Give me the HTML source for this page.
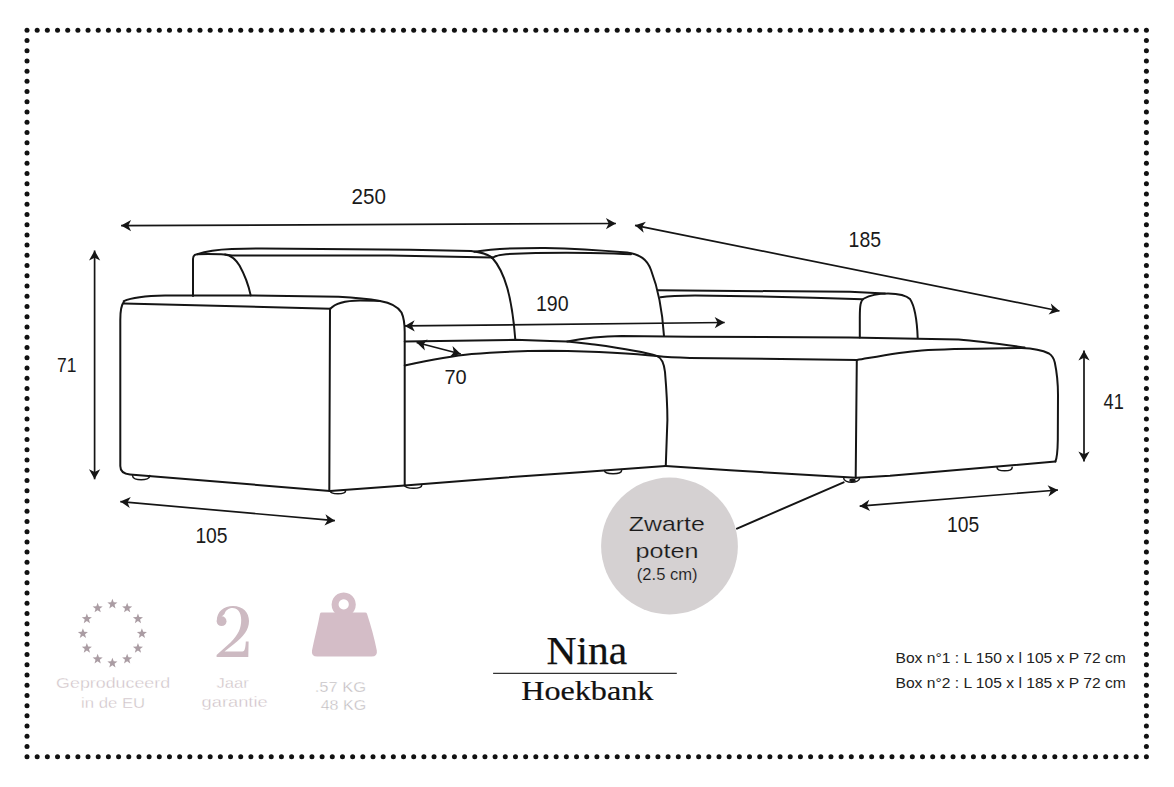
<!DOCTYPE html><html><head><meta charset="utf-8"><style>html,body{margin:0;padding:0;background:#fff;}svg{display:block;}</style></head><body>
<svg width="1174" height="787" viewBox="0 0 1174 787">
<rect width="1174" height="787" fill="#fff"/>
<g fill="#111"><circle cx="27.00" cy="30.20" r="2.5"/><circle cx="27.00" cy="756.80" r="2.5"/><circle cx="37.18" cy="30.20" r="2.5"/><circle cx="37.18" cy="756.80" r="2.5"/><circle cx="47.35" cy="30.20" r="2.5"/><circle cx="47.35" cy="756.80" r="2.5"/><circle cx="57.53" cy="30.20" r="2.5"/><circle cx="57.53" cy="756.80" r="2.5"/><circle cx="67.71" cy="30.20" r="2.5"/><circle cx="67.71" cy="756.80" r="2.5"/><circle cx="77.88" cy="30.20" r="2.5"/><circle cx="77.88" cy="756.80" r="2.5"/><circle cx="88.06" cy="30.20" r="2.5"/><circle cx="88.06" cy="756.80" r="2.5"/><circle cx="98.23" cy="30.20" r="2.5"/><circle cx="98.23" cy="756.80" r="2.5"/><circle cx="108.41" cy="30.20" r="2.5"/><circle cx="108.41" cy="756.80" r="2.5"/><circle cx="118.59" cy="30.20" r="2.5"/><circle cx="118.59" cy="756.80" r="2.5"/><circle cx="128.76" cy="30.20" r="2.5"/><circle cx="128.76" cy="756.80" r="2.5"/><circle cx="138.94" cy="30.20" r="2.5"/><circle cx="138.94" cy="756.80" r="2.5"/><circle cx="149.12" cy="30.20" r="2.5"/><circle cx="149.12" cy="756.80" r="2.5"/><circle cx="159.29" cy="30.20" r="2.5"/><circle cx="159.29" cy="756.80" r="2.5"/><circle cx="169.47" cy="30.20" r="2.5"/><circle cx="169.47" cy="756.80" r="2.5"/><circle cx="179.65" cy="30.20" r="2.5"/><circle cx="179.65" cy="756.80" r="2.5"/><circle cx="189.82" cy="30.20" r="2.5"/><circle cx="189.82" cy="756.80" r="2.5"/><circle cx="200.00" cy="30.20" r="2.5"/><circle cx="200.00" cy="756.80" r="2.5"/><circle cx="210.17" cy="30.20" r="2.5"/><circle cx="210.17" cy="756.80" r="2.5"/><circle cx="220.35" cy="30.20" r="2.5"/><circle cx="220.35" cy="756.80" r="2.5"/><circle cx="230.53" cy="30.20" r="2.5"/><circle cx="230.53" cy="756.80" r="2.5"/><circle cx="240.70" cy="30.20" r="2.5"/><circle cx="240.70" cy="756.80" r="2.5"/><circle cx="250.88" cy="30.20" r="2.5"/><circle cx="250.88" cy="756.80" r="2.5"/><circle cx="261.06" cy="30.20" r="2.5"/><circle cx="261.06" cy="756.80" r="2.5"/><circle cx="271.23" cy="30.20" r="2.5"/><circle cx="271.23" cy="756.80" r="2.5"/><circle cx="281.41" cy="30.20" r="2.5"/><circle cx="281.41" cy="756.80" r="2.5"/><circle cx="291.59" cy="30.20" r="2.5"/><circle cx="291.59" cy="756.80" r="2.5"/><circle cx="301.76" cy="30.20" r="2.5"/><circle cx="301.76" cy="756.80" r="2.5"/><circle cx="311.94" cy="30.20" r="2.5"/><circle cx="311.94" cy="756.80" r="2.5"/><circle cx="322.11" cy="30.20" r="2.5"/><circle cx="322.11" cy="756.80" r="2.5"/><circle cx="332.29" cy="30.20" r="2.5"/><circle cx="332.29" cy="756.80" r="2.5"/><circle cx="342.47" cy="30.20" r="2.5"/><circle cx="342.47" cy="756.80" r="2.5"/><circle cx="352.64" cy="30.20" r="2.5"/><circle cx="352.64" cy="756.80" r="2.5"/><circle cx="362.82" cy="30.20" r="2.5"/><circle cx="362.82" cy="756.80" r="2.5"/><circle cx="373.00" cy="30.20" r="2.5"/><circle cx="373.00" cy="756.80" r="2.5"/><circle cx="383.17" cy="30.20" r="2.5"/><circle cx="383.17" cy="756.80" r="2.5"/><circle cx="393.35" cy="30.20" r="2.5"/><circle cx="393.35" cy="756.80" r="2.5"/><circle cx="403.53" cy="30.20" r="2.5"/><circle cx="403.53" cy="756.80" r="2.5"/><circle cx="413.70" cy="30.20" r="2.5"/><circle cx="413.70" cy="756.80" r="2.5"/><circle cx="423.88" cy="30.20" r="2.5"/><circle cx="423.88" cy="756.80" r="2.5"/><circle cx="434.05" cy="30.20" r="2.5"/><circle cx="434.05" cy="756.80" r="2.5"/><circle cx="444.23" cy="30.20" r="2.5"/><circle cx="444.23" cy="756.80" r="2.5"/><circle cx="454.41" cy="30.20" r="2.5"/><circle cx="454.41" cy="756.80" r="2.5"/><circle cx="464.58" cy="30.20" r="2.5"/><circle cx="464.58" cy="756.80" r="2.5"/><circle cx="474.76" cy="30.20" r="2.5"/><circle cx="474.76" cy="756.80" r="2.5"/><circle cx="484.94" cy="30.20" r="2.5"/><circle cx="484.94" cy="756.80" r="2.5"/><circle cx="495.11" cy="30.20" r="2.5"/><circle cx="495.11" cy="756.80" r="2.5"/><circle cx="505.29" cy="30.20" r="2.5"/><circle cx="505.29" cy="756.80" r="2.5"/><circle cx="515.47" cy="30.20" r="2.5"/><circle cx="515.47" cy="756.80" r="2.5"/><circle cx="525.64" cy="30.20" r="2.5"/><circle cx="525.64" cy="756.80" r="2.5"/><circle cx="535.82" cy="30.20" r="2.5"/><circle cx="535.82" cy="756.80" r="2.5"/><circle cx="545.99" cy="30.20" r="2.5"/><circle cx="545.99" cy="756.80" r="2.5"/><circle cx="556.17" cy="30.20" r="2.5"/><circle cx="556.17" cy="756.80" r="2.5"/><circle cx="566.35" cy="30.20" r="2.5"/><circle cx="566.35" cy="756.80" r="2.5"/><circle cx="576.52" cy="30.20" r="2.5"/><circle cx="576.52" cy="756.80" r="2.5"/><circle cx="586.70" cy="30.20" r="2.5"/><circle cx="586.70" cy="756.80" r="2.5"/><circle cx="596.88" cy="30.20" r="2.5"/><circle cx="596.88" cy="756.80" r="2.5"/><circle cx="607.05" cy="30.20" r="2.5"/><circle cx="607.05" cy="756.80" r="2.5"/><circle cx="617.23" cy="30.20" r="2.5"/><circle cx="617.23" cy="756.80" r="2.5"/><circle cx="627.41" cy="30.20" r="2.5"/><circle cx="627.41" cy="756.80" r="2.5"/><circle cx="637.58" cy="30.20" r="2.5"/><circle cx="637.58" cy="756.80" r="2.5"/><circle cx="647.76" cy="30.20" r="2.5"/><circle cx="647.76" cy="756.80" r="2.5"/><circle cx="657.93" cy="30.20" r="2.5"/><circle cx="657.93" cy="756.80" r="2.5"/><circle cx="668.11" cy="30.20" r="2.5"/><circle cx="668.11" cy="756.80" r="2.5"/><circle cx="678.29" cy="30.20" r="2.5"/><circle cx="678.29" cy="756.80" r="2.5"/><circle cx="688.46" cy="30.20" r="2.5"/><circle cx="688.46" cy="756.80" r="2.5"/><circle cx="698.64" cy="30.20" r="2.5"/><circle cx="698.64" cy="756.80" r="2.5"/><circle cx="708.82" cy="30.20" r="2.5"/><circle cx="708.82" cy="756.80" r="2.5"/><circle cx="718.99" cy="30.20" r="2.5"/><circle cx="718.99" cy="756.80" r="2.5"/><circle cx="729.17" cy="30.20" r="2.5"/><circle cx="729.17" cy="756.80" r="2.5"/><circle cx="739.35" cy="30.20" r="2.5"/><circle cx="739.35" cy="756.80" r="2.5"/><circle cx="749.52" cy="30.20" r="2.5"/><circle cx="749.52" cy="756.80" r="2.5"/><circle cx="759.70" cy="30.20" r="2.5"/><circle cx="759.70" cy="756.80" r="2.5"/><circle cx="769.87" cy="30.20" r="2.5"/><circle cx="769.87" cy="756.80" r="2.5"/><circle cx="780.05" cy="30.20" r="2.5"/><circle cx="780.05" cy="756.80" r="2.5"/><circle cx="790.23" cy="30.20" r="2.5"/><circle cx="790.23" cy="756.80" r="2.5"/><circle cx="800.40" cy="30.20" r="2.5"/><circle cx="800.40" cy="756.80" r="2.5"/><circle cx="810.58" cy="30.20" r="2.5"/><circle cx="810.58" cy="756.80" r="2.5"/><circle cx="820.76" cy="30.20" r="2.5"/><circle cx="820.76" cy="756.80" r="2.5"/><circle cx="830.93" cy="30.20" r="2.5"/><circle cx="830.93" cy="756.80" r="2.5"/><circle cx="841.11" cy="30.20" r="2.5"/><circle cx="841.11" cy="756.80" r="2.5"/><circle cx="851.29" cy="30.20" r="2.5"/><circle cx="851.29" cy="756.80" r="2.5"/><circle cx="861.46" cy="30.20" r="2.5"/><circle cx="861.46" cy="756.80" r="2.5"/><circle cx="871.64" cy="30.20" r="2.5"/><circle cx="871.64" cy="756.80" r="2.5"/><circle cx="881.81" cy="30.20" r="2.5"/><circle cx="881.81" cy="756.80" r="2.5"/><circle cx="891.99" cy="30.20" r="2.5"/><circle cx="891.99" cy="756.80" r="2.5"/><circle cx="902.17" cy="30.20" r="2.5"/><circle cx="902.17" cy="756.80" r="2.5"/><circle cx="912.34" cy="30.20" r="2.5"/><circle cx="912.34" cy="756.80" r="2.5"/><circle cx="922.52" cy="30.20" r="2.5"/><circle cx="922.52" cy="756.80" r="2.5"/><circle cx="932.70" cy="30.20" r="2.5"/><circle cx="932.70" cy="756.80" r="2.5"/><circle cx="942.87" cy="30.20" r="2.5"/><circle cx="942.87" cy="756.80" r="2.5"/><circle cx="953.05" cy="30.20" r="2.5"/><circle cx="953.05" cy="756.80" r="2.5"/><circle cx="963.23" cy="30.20" r="2.5"/><circle cx="963.23" cy="756.80" r="2.5"/><circle cx="973.40" cy="30.20" r="2.5"/><circle cx="973.40" cy="756.80" r="2.5"/><circle cx="983.58" cy="30.20" r="2.5"/><circle cx="983.58" cy="756.80" r="2.5"/><circle cx="993.75" cy="30.20" r="2.5"/><circle cx="993.75" cy="756.80" r="2.5"/><circle cx="1003.93" cy="30.20" r="2.5"/><circle cx="1003.93" cy="756.80" r="2.5"/><circle cx="1014.11" cy="30.20" r="2.5"/><circle cx="1014.11" cy="756.80" r="2.5"/><circle cx="1024.28" cy="30.20" r="2.5"/><circle cx="1024.28" cy="756.80" r="2.5"/><circle cx="1034.46" cy="30.20" r="2.5"/><circle cx="1034.46" cy="756.80" r="2.5"/><circle cx="1044.64" cy="30.20" r="2.5"/><circle cx="1044.64" cy="756.80" r="2.5"/><circle cx="1054.81" cy="30.20" r="2.5"/><circle cx="1054.81" cy="756.80" r="2.5"/><circle cx="1064.99" cy="30.20" r="2.5"/><circle cx="1064.99" cy="756.80" r="2.5"/><circle cx="1075.17" cy="30.20" r="2.5"/><circle cx="1075.17" cy="756.80" r="2.5"/><circle cx="1085.34" cy="30.20" r="2.5"/><circle cx="1085.34" cy="756.80" r="2.5"/><circle cx="1095.52" cy="30.20" r="2.5"/><circle cx="1095.52" cy="756.80" r="2.5"/><circle cx="1105.69" cy="30.20" r="2.5"/><circle cx="1105.69" cy="756.80" r="2.5"/><circle cx="1115.87" cy="30.20" r="2.5"/><circle cx="1115.87" cy="756.80" r="2.5"/><circle cx="1126.05" cy="30.20" r="2.5"/><circle cx="1126.05" cy="756.80" r="2.5"/><circle cx="1136.22" cy="30.20" r="2.5"/><circle cx="1136.22" cy="756.80" r="2.5"/><circle cx="1146.40" cy="30.20" r="2.5"/><circle cx="1146.40" cy="756.80" r="2.5"/><circle cx="27.00" cy="40.43" r="2.5"/><circle cx="1146.40" cy="40.43" r="2.5"/><circle cx="27.00" cy="50.67" r="2.5"/><circle cx="1146.40" cy="50.67" r="2.5"/><circle cx="27.00" cy="60.90" r="2.5"/><circle cx="1146.40" cy="60.90" r="2.5"/><circle cx="27.00" cy="71.14" r="2.5"/><circle cx="1146.40" cy="71.14" r="2.5"/><circle cx="27.00" cy="81.37" r="2.5"/><circle cx="1146.40" cy="81.37" r="2.5"/><circle cx="27.00" cy="91.60" r="2.5"/><circle cx="1146.40" cy="91.60" r="2.5"/><circle cx="27.00" cy="101.84" r="2.5"/><circle cx="1146.40" cy="101.84" r="2.5"/><circle cx="27.00" cy="112.07" r="2.5"/><circle cx="1146.40" cy="112.07" r="2.5"/><circle cx="27.00" cy="122.30" r="2.5"/><circle cx="1146.40" cy="122.30" r="2.5"/><circle cx="27.00" cy="132.54" r="2.5"/><circle cx="1146.40" cy="132.54" r="2.5"/><circle cx="27.00" cy="142.77" r="2.5"/><circle cx="1146.40" cy="142.77" r="2.5"/><circle cx="27.00" cy="153.01" r="2.5"/><circle cx="1146.40" cy="153.01" r="2.5"/><circle cx="27.00" cy="163.24" r="2.5"/><circle cx="1146.40" cy="163.24" r="2.5"/><circle cx="27.00" cy="173.47" r="2.5"/><circle cx="1146.40" cy="173.47" r="2.5"/><circle cx="27.00" cy="183.71" r="2.5"/><circle cx="1146.40" cy="183.71" r="2.5"/><circle cx="27.00" cy="193.94" r="2.5"/><circle cx="1146.40" cy="193.94" r="2.5"/><circle cx="27.00" cy="204.17" r="2.5"/><circle cx="1146.40" cy="204.17" r="2.5"/><circle cx="27.00" cy="214.41" r="2.5"/><circle cx="1146.40" cy="214.41" r="2.5"/><circle cx="27.00" cy="224.64" r="2.5"/><circle cx="1146.40" cy="224.64" r="2.5"/><circle cx="27.00" cy="234.88" r="2.5"/><circle cx="1146.40" cy="234.88" r="2.5"/><circle cx="27.00" cy="245.11" r="2.5"/><circle cx="1146.40" cy="245.11" r="2.5"/><circle cx="27.00" cy="255.34" r="2.5"/><circle cx="1146.40" cy="255.34" r="2.5"/><circle cx="27.00" cy="265.58" r="2.5"/><circle cx="1146.40" cy="265.58" r="2.5"/><circle cx="27.00" cy="275.81" r="2.5"/><circle cx="1146.40" cy="275.81" r="2.5"/><circle cx="27.00" cy="286.05" r="2.5"/><circle cx="1146.40" cy="286.05" r="2.5"/><circle cx="27.00" cy="296.28" r="2.5"/><circle cx="1146.40" cy="296.28" r="2.5"/><circle cx="27.00" cy="306.51" r="2.5"/><circle cx="1146.40" cy="306.51" r="2.5"/><circle cx="27.00" cy="316.75" r="2.5"/><circle cx="1146.40" cy="316.75" r="2.5"/><circle cx="27.00" cy="326.98" r="2.5"/><circle cx="1146.40" cy="326.98" r="2.5"/><circle cx="27.00" cy="337.21" r="2.5"/><circle cx="1146.40" cy="337.21" r="2.5"/><circle cx="27.00" cy="347.45" r="2.5"/><circle cx="1146.40" cy="347.45" r="2.5"/><circle cx="27.00" cy="357.68" r="2.5"/><circle cx="1146.40" cy="357.68" r="2.5"/><circle cx="27.00" cy="367.92" r="2.5"/><circle cx="1146.40" cy="367.92" r="2.5"/><circle cx="27.00" cy="378.15" r="2.5"/><circle cx="1146.40" cy="378.15" r="2.5"/><circle cx="27.00" cy="388.38" r="2.5"/><circle cx="1146.40" cy="388.38" r="2.5"/><circle cx="27.00" cy="398.62" r="2.5"/><circle cx="1146.40" cy="398.62" r="2.5"/><circle cx="27.00" cy="408.85" r="2.5"/><circle cx="1146.40" cy="408.85" r="2.5"/><circle cx="27.00" cy="419.08" r="2.5"/><circle cx="1146.40" cy="419.08" r="2.5"/><circle cx="27.00" cy="429.32" r="2.5"/><circle cx="1146.40" cy="429.32" r="2.5"/><circle cx="27.00" cy="439.55" r="2.5"/><circle cx="1146.40" cy="439.55" r="2.5"/><circle cx="27.00" cy="449.79" r="2.5"/><circle cx="1146.40" cy="449.79" r="2.5"/><circle cx="27.00" cy="460.02" r="2.5"/><circle cx="1146.40" cy="460.02" r="2.5"/><circle cx="27.00" cy="470.25" r="2.5"/><circle cx="1146.40" cy="470.25" r="2.5"/><circle cx="27.00" cy="480.49" r="2.5"/><circle cx="1146.40" cy="480.49" r="2.5"/><circle cx="27.00" cy="490.72" r="2.5"/><circle cx="1146.40" cy="490.72" r="2.5"/><circle cx="27.00" cy="500.95" r="2.5"/><circle cx="1146.40" cy="500.95" r="2.5"/><circle cx="27.00" cy="511.19" r="2.5"/><circle cx="1146.40" cy="511.19" r="2.5"/><circle cx="27.00" cy="521.42" r="2.5"/><circle cx="1146.40" cy="521.42" r="2.5"/><circle cx="27.00" cy="531.66" r="2.5"/><circle cx="1146.40" cy="531.66" r="2.5"/><circle cx="27.00" cy="541.89" r="2.5"/><circle cx="1146.40" cy="541.89" r="2.5"/><circle cx="27.00" cy="552.12" r="2.5"/><circle cx="1146.40" cy="552.12" r="2.5"/><circle cx="27.00" cy="562.36" r="2.5"/><circle cx="1146.40" cy="562.36" r="2.5"/><circle cx="27.00" cy="572.59" r="2.5"/><circle cx="1146.40" cy="572.59" r="2.5"/><circle cx="27.00" cy="582.83" r="2.5"/><circle cx="1146.40" cy="582.83" r="2.5"/><circle cx="27.00" cy="593.06" r="2.5"/><circle cx="1146.40" cy="593.06" r="2.5"/><circle cx="27.00" cy="603.29" r="2.5"/><circle cx="1146.40" cy="603.29" r="2.5"/><circle cx="27.00" cy="613.53" r="2.5"/><circle cx="1146.40" cy="613.53" r="2.5"/><circle cx="27.00" cy="623.76" r="2.5"/><circle cx="1146.40" cy="623.76" r="2.5"/><circle cx="27.00" cy="633.99" r="2.5"/><circle cx="1146.40" cy="633.99" r="2.5"/><circle cx="27.00" cy="644.23" r="2.5"/><circle cx="1146.40" cy="644.23" r="2.5"/><circle cx="27.00" cy="654.46" r="2.5"/><circle cx="1146.40" cy="654.46" r="2.5"/><circle cx="27.00" cy="664.70" r="2.5"/><circle cx="1146.40" cy="664.70" r="2.5"/><circle cx="27.00" cy="674.93" r="2.5"/><circle cx="1146.40" cy="674.93" r="2.5"/><circle cx="27.00" cy="685.16" r="2.5"/><circle cx="1146.40" cy="685.16" r="2.5"/><circle cx="27.00" cy="695.40" r="2.5"/><circle cx="1146.40" cy="695.40" r="2.5"/><circle cx="27.00" cy="705.63" r="2.5"/><circle cx="1146.40" cy="705.63" r="2.5"/><circle cx="27.00" cy="715.86" r="2.5"/><circle cx="1146.40" cy="715.86" r="2.5"/><circle cx="27.00" cy="726.10" r="2.5"/><circle cx="1146.40" cy="726.10" r="2.5"/><circle cx="27.00" cy="736.33" r="2.5"/><circle cx="1146.40" cy="736.33" r="2.5"/><circle cx="27.00" cy="746.57" r="2.5"/><circle cx="1146.40" cy="746.57" r="2.5"/></g>
<g fill="none" stroke="#151515" stroke-width="2" stroke-linecap="round" stroke-linejoin="round">
<path d="M193,296 L193,259 C193,256 194.8,254.4 197.3,254.2 C207,250.8 218,249.5 232,249.0 L262,248.4 L410,249.8 L471,251.1 C482,252.5 488,254.5 492,257.5"/>
<path d="M197.3,254.2 C210,253.8 222,254 232,255.4 L390,255.6 L492,257.5"/>
<path d="M225,254.4 C231.5,255.3 235.5,259 239.5,265.5 C244.5,274.5 248.5,285 250.7,295.4"/>
<path d="M492,257.5 C505,272 512,297 515.3,339.5"/>
<path d="M474.5,251.8 C492,249 520,247.8 545,247.9 C580,248.6 610,251 627,252.5 C640,254.5 647,259 651,270 C656,283 662,305 664,336"/>
<path d="M492,258 C496,255.5 500,254.5 506,254.2 C530,253 560,252.6 590,253 C610,253.4 622,253.8 631,254.3"/>
<path d="M658,290.3 L850,291.8 L885,293.4"/>
<path d="M660.5,297.3 C668,296 678,295.4 695,295.4 C760,296.2 820,297.8 862.5,299.3"/>
<path d="M859.8,337.4 L859.8,318 C859.8,305 860.5,300.5 864,298.5 C870,295 878,293.5 888,293.4 C898,293.5 906,295 910,299 C914,305 917,320 917.7,338"/>
<path d="M123.8,301.2 C132,297.5 145,296 165,295.6 L250,295.4 L338.6,296.8 C358,297.8 370,299.2 380,300.9 C391,302.8 398,306.5 401.5,312.5 C404,318 404.7,324 404.7,332 L404.7,485.4"/>
<path d="M123.8,303.6 L330.4,308.7"/>
<path d="M330.4,308.7 C335,303.2 344,300.6 360,300.4 C368,300.4 374,300.5 380,300.9"/>
<path d="M123.8,302 C121.2,305 120.3,310 120.3,320 L120.3,466 C120.3,471 124,474 130,474.5 L330,490.9"/>
<path d="M330,308.7 L329.3,490.5"/>
<path d="M330,490.9 L404.7,485.4"/>
<path d="M404.7,341.5 L515,339.8 L550,341.1 L567.2,341.5 C580,342.5 588,343.8 594.5,344.5 C620,348 645,352 657.2,356.1"/>
<path d="M404.7,365.4 C430,360 450,356 471.7,354 C500,351.5 520,351 550,350.7 C600,351.5 640,354 657.2,356.1"/>
<path d="M657.2,356.1 C662,358 664,363 665,372 C666.5,390 667.4,405 667.4,420 L665.8,465.4"/>
<path d="M404.7,485.4 L500,477.9 L580,472.2 L665.5,466.1"/>
<path d="M567.2,341.5 C585,338 605,336.3 621.7,336.1 L690,336.8 L850,337.4 L958.5,339.5 C980,341 1000,344 1024.6,347.5"/>
<path d="M657.2,356.1 C665,357 675,357.6 690,357.9 L857,360 C880,356 900,352 921.7,350.4 C950,348.5 990,348.4 1021.6,348 C1034,348.4 1043,350.5 1049,353.5 C1052,355.5 1053.8,358 1054.8,362.5 C1056.8,372 1058,385 1058,395 L1057.8,440 C1057.6,452 1057,458 1055.4,461.5"/>
<path d="M856.8,360 L855.7,477.7"/>
<path d="M665.5,466.1 L730,470.3 L856,477.7"/>
<path d="M856.3,477.7 L890,475.7 L1055.4,461.5"/>
<path d="M843.6,482.3 L737,528.6"/>
<path d="M132.5,475.5 C132.5,481.3 149.8,481.3 149.8,475.5" stroke-width="1.5"/>
<path d="M330.3,490.7 C330.3,494.8 345.6,494.8 345.6,490.7" stroke-width="1.5"/>
<path d="M405.1,485.2 C405.1,489.3 421.7,489.3 421.7,485.2" stroke-width="1.5"/>
<path d="M604.5,470.5 C604.5,474.8 621.6,474.8 621.6,470.5" stroke-width="1.5"/>
<path d="M843.6,477.7 C843.6,483.6 859.7,483.6 859.7,477.7" stroke-width="1.5"/>
<path d="M997,467.2 C997,472.0 1012.2,472.0 1012.2,467.2" stroke-width="1.5"/>
<ellipse cx="852.5" cy="480.2" rx="3.2" ry="1.8" fill="#151515" stroke="none"/>
</g>
<g stroke="#151515" stroke-width="1.7" fill="none">
<line x1="121.1" y1="225.6" x2="615.9" y2="223.5"/><path d="M615.90,223.50 L605.92,229.14 L608.70,223.53 L605.88,217.94 Z" stroke="none" fill="#151515"/><path d="M121.10,225.60 L131.08,219.96 L128.30,225.57 L131.12,231.16 Z" stroke="none" fill="#151515"/>
<line x1="635" y1="225.3" x2="1059.5" y2="311"/><path d="M1059.50,311.00 L1048.59,314.51 L1052.44,309.58 L1050.81,303.53 Z" stroke="none" fill="#151515"/><path d="M635.00,225.30 L645.91,221.79 L642.06,226.72 L643.69,232.77 Z" stroke="none" fill="#151515"/>
<line x1="94.6" y1="250.5" x2="94.6" y2="479.3"/><path d="M94.60,479.30 L89.00,469.30 L94.60,472.10 L100.20,469.30 Z" stroke="none" fill="#151515"/><path d="M94.60,250.50 L100.20,260.50 L94.60,257.70 L89.00,260.50 Z" stroke="none" fill="#151515"/>
<line x1="404.7" y1="325.9" x2="724.7" y2="322.5"/><path d="M724.70,322.50 L714.76,328.21 L717.50,322.58 L714.64,317.01 Z" stroke="none" fill="#151515"/><path d="M404.70,325.90 L414.64,320.19 L411.90,325.82 L414.76,331.39 Z" stroke="none" fill="#151515"/>
<line x1="416.6" y1="342.5" x2="460.8" y2="354"/><path d="M460.80,354.00 L449.71,356.90 L453.83,352.19 L452.53,346.06 Z" stroke="none" fill="#151515"/><path d="M416.60,342.50 L427.69,339.60 L423.57,344.31 L424.87,350.44 Z" stroke="none" fill="#151515"/>
<line x1="120.3" y1="501.6" x2="334.9" y2="520.7"/><path d="M334.90,520.70 L324.44,525.39 L327.73,520.06 L325.44,514.24 Z" stroke="none" fill="#151515"/><path d="M120.30,501.60 L130.76,496.91 L127.47,502.24 L129.76,508.06 Z" stroke="none" fill="#151515"/>
<line x1="859.7" y1="506.2" x2="1058" y2="490"/><path d="M1058.00,490.00 L1048.49,496.40 L1050.82,490.59 L1047.58,485.23 Z" stroke="none" fill="#151515"/><path d="M859.70,506.20 L869.21,499.80 L866.88,505.61 L870.12,510.97 Z" stroke="none" fill="#151515"/>
<line x1="1084" y1="350.5" x2="1084" y2="461.5"/><path d="M1084.00,461.50 L1078.40,451.50 L1084.00,454.30 L1089.60,451.50 Z" stroke="none" fill="#151515"/><path d="M1084.00,350.50 L1089.60,360.50 L1084.00,357.70 L1078.40,360.50 Z" stroke="none" fill="#151515"/>
</g>
<circle cx="669.5" cy="546" r="68.4" fill="#d5d1d2"/>
<text x="351.6" y="203.9" font-family="Liberation Sans" font-size="21.5" fill="#1a1a1a" textLength="34.4" lengthAdjust="spacingAndGlyphs">250</text>
<text x="848.6" y="246.6" font-family="Liberation Sans" font-size="21.5" fill="#1a1a1a" textLength="32.4" lengthAdjust="spacingAndGlyphs">185</text>
<text x="536" y="310.9" font-family="Liberation Sans" font-size="21.5" fill="#1a1a1a" textLength="32.6" lengthAdjust="spacingAndGlyphs">190</text>
<text x="444.5" y="384" font-family="Liberation Sans" font-size="21" fill="#1a1a1a" textLength="22.2" lengthAdjust="spacingAndGlyphs">70</text>
<text x="57" y="371.6" font-family="Liberation Sans" font-size="21" fill="#1a1a1a" textLength="19.4" lengthAdjust="spacingAndGlyphs">71</text>
<text x="1103.6" y="408.7" font-family="Liberation Sans" font-size="21.5" fill="#1a1a1a" textLength="20.2" lengthAdjust="spacingAndGlyphs">41</text>
<text x="195.4" y="542.6" font-family="Liberation Sans" font-size="21.5" fill="#1a1a1a" textLength="32.2" lengthAdjust="spacingAndGlyphs">105</text>
<text x="947.1" y="531.8" font-family="Liberation Sans" font-size="21.5" fill="#1a1a1a" textLength="32.1" lengthAdjust="spacingAndGlyphs">105</text>
<text x="628.8" y="530.9" font-family="Liberation Sans" font-size="21" fill="#1a1a1a" textLength="76" lengthAdjust="spacingAndGlyphs" stroke="#d5d1d2" stroke-width="0.2">Zwarte</text>
<text x="635.4" y="557.9" font-family="Liberation Sans" font-size="21" fill="#1a1a1a" textLength="63" lengthAdjust="spacingAndGlyphs" stroke="#d5d1d2" stroke-width="0.2">poten</text>
<text x="636.8" y="579.6" font-family="Liberation Sans" font-size="16.5" fill="#1a1a1a" textLength="60.8" lengthAdjust="spacingAndGlyphs" stroke="#d5d1d2" stroke-width="0.15">(2.5 cm)</text>
<g fill="#aa9ca3"><polygon points="112.40,598.80 113.71,602.30 117.44,602.46 114.52,604.79 115.52,608.39 112.40,606.33 109.28,608.39 110.28,604.79 107.36,602.46 111.09,602.30"/><polygon points="127.15,602.75 128.46,606.25 132.19,606.41 129.27,608.74 130.27,612.34 127.15,610.28 124.03,612.34 125.03,608.74 122.11,606.41 125.84,606.25"/><polygon points="137.95,613.55 139.26,617.05 142.99,617.21 140.06,619.54 141.06,623.14 137.95,621.08 134.83,623.14 135.83,619.54 132.91,617.21 136.64,617.05"/><polygon points="141.90,628.30 143.21,631.80 146.94,631.96 144.02,634.29 145.02,637.89 141.90,635.83 138.78,637.89 139.78,634.29 136.86,631.96 140.59,631.80"/><polygon points="137.95,643.05 139.26,646.55 142.99,646.71 140.06,649.04 141.06,652.64 137.95,650.58 134.83,652.64 135.83,649.04 132.91,646.71 136.64,646.55"/><polygon points="127.15,653.85 128.46,657.35 132.19,657.51 129.27,659.84 130.27,663.44 127.15,661.37 124.03,663.44 125.03,659.84 122.11,657.51 125.84,657.35"/><polygon points="112.40,657.80 113.71,661.30 117.44,661.46 114.52,663.79 115.52,667.39 112.40,665.33 109.28,667.39 110.28,663.79 107.36,661.46 111.09,661.30"/><polygon points="97.65,653.85 98.96,657.35 102.69,657.51 99.77,659.84 100.77,663.44 97.65,661.37 94.53,663.44 95.53,659.84 92.61,657.51 96.34,657.35"/><polygon points="86.85,643.05 88.16,646.55 91.89,646.71 88.97,649.04 89.97,652.64 86.85,650.58 83.74,652.64 84.74,649.04 81.81,646.71 85.54,646.55"/><polygon points="82.90,628.30 84.21,631.80 87.94,631.96 85.02,634.29 86.02,637.89 82.90,635.83 79.78,637.89 80.78,634.29 77.86,631.96 81.59,631.80"/><polygon points="86.85,613.55 88.16,617.05 91.89,617.21 88.97,619.54 89.97,623.14 86.85,621.08 83.74,623.14 84.74,619.54 81.81,617.21 85.54,617.05"/><polygon points="97.65,602.75 98.96,606.25 102.69,606.41 99.77,608.74 100.77,612.34 97.65,610.28 94.53,612.34 95.53,608.74 92.61,606.41 96.34,606.25"/></g>
<text x="56.1" y="688.3" font-family="Liberation Sans" font-size="15" fill="#cdbfc5" textLength="114" lengthAdjust="spacingAndGlyphs" stroke="#fff" stroke-width="0.35">Geproduceerd</text>
<text x="81" y="707.7" font-family="Liberation Sans" font-size="15" fill="#cdbfc5" textLength="64.2" lengthAdjust="spacingAndGlyphs" stroke="#fff" stroke-width="0.35">in de EU</text>
<g fill="#cdbac2"><circle cx="221.6" cy="621.2" r="4.9"/><path d="M216.8,621 C216.6,611.5 224,606 233,606 C243,606 249,612.5 249,621 C249,630 243.5,636.5 234,644 L224.5,651.5 L242.5,651.5 C244.5,651.5 245.5,648.5 245.8,641.5 L248.6,641.5 L248.3,657 L216.6,657 L216.6,655 L230.5,642.5 C238,635 241.2,628.5 241.2,620 C241.2,612 237.5,608 232.5,608 C228.5,608 225.5,610.5 224.5,614 Z"/></g>
<text x="216.4" y="687.5" font-family="Liberation Sans" font-size="15.5" fill="#cdbfc5" textLength="32.3" lengthAdjust="spacingAndGlyphs" stroke="#fff" stroke-width="0.35">Jaar</text>
<text x="201.6" y="706.5" font-family="Liberation Sans" font-size="15.5" fill="#cdbfc5" textLength="66" lengthAdjust="spacingAndGlyphs" stroke="#fff" stroke-width="0.35">garantie</text>
<g fill="#d4bdc7"><path fill-rule="evenodd" d="M343.7,592.5 a12.1,12.1 0 1,1 -0.01,0 Z M343.7,599.3 a5.1,5.1 0 1,0 0.01,0 Z"/>
<path d="M321.5,612.4 L365.2,612.4 Q366.6,612.4 367,613.8 C371,626 374.5,639 376.8,650.5 Q377.8,656.6 371.5,656.6 L317.3,656.6 Q311,656.6 312,650.5 C314.3,639 317.8,626 320,613.8 Q320.4,612.4 321.5,612.4 Z"/></g>
<text x="314.7" y="692.2" font-family="Liberation Sans" font-size="14" fill="#bdb8bb" textLength="51.5" lengthAdjust="spacingAndGlyphs" stroke="#fff" stroke-width="0.35">.57 KG</text>
<text x="320.7" y="710.2" font-family="Liberation Sans" font-size="14" fill="#bdb8bb" textLength="45.5" lengthAdjust="spacingAndGlyphs" stroke="#fff" stroke-width="0.35">48 KG</text>
<text x="546.5" y="664" font-family="Liberation Serif" font-size="39" fill="#111" textLength="80.6" lengthAdjust="spacingAndGlyphs" stroke="#111" stroke-width="0.25">Nina</text>
<line x1="493.1" y1="673.4" x2="676.8" y2="673.4" stroke="#333" stroke-width="1.2"/>
<text x="521.2" y="699.6" font-family="Liberation Serif" font-size="28" fill="#111" textLength="132.2" lengthAdjust="spacingAndGlyphs" stroke="#111" stroke-width="0.2">Hoekbank</text>
<text x="895.5" y="663.3" font-family="Liberation Sans" font-size="15" fill="#222" textLength="230.3" lengthAdjust="spacingAndGlyphs">Box n°1 : L 150 x l 105 x P 72 cm</text>
<text x="895.5" y="687.6" font-family="Liberation Sans" font-size="15" fill="#222" textLength="230.3" lengthAdjust="spacingAndGlyphs">Box n°2 : L 105 x l 185 x P 72 cm</text>
</svg></body></html>
